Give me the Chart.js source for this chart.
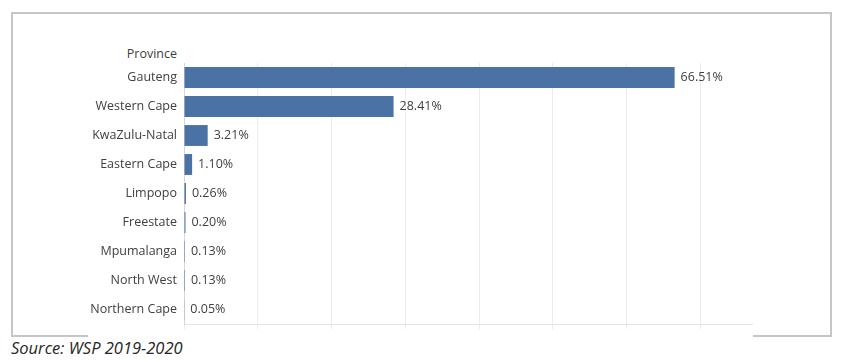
<!DOCTYPE html>
<html>
<head>
<meta charset="utf-8">
<script src="https://cdn.jsdelivr.net/npm/chart.js@4"></script>
<style>
  body { margin: 0; background: #fff; font-family: "Open Sans", sans-serif; }
  #wrap { position: relative; width: 850px; height: 362px; overflow: hidden; }
  .frame { position: absolute; left: 11px; top: 12px; width: 817px; height: 323px;
           border-left: 2px solid #c6c6c6; border-top: 2px solid #c6c6c6; border-right: 2px solid #c6c6c6; }
  .seg { position: absolute; height: 2px; background: #c6c6c6; top: 335px; }
  #head { position: absolute; right: 673px; top: 45px; font-size: 12.5px; color: #404040; }
  #src { position: absolute; left: 11px; top: 336px; font-size: 16.5px; font-style: italic; color: #262626; }
  canvas { position: absolute; left: 0; top: 0; }
</style>
</head>
<body>
<div id="wrap">
  <div class="frame"></div>
  <div class="seg" style="left:11px;width:77px"></div>
  <div class="seg" style="left:753px;width:79px"></div>
  <div id="head">Province</div>
  <div id="src">Source: WSP 2019-2020</div>
  <canvas id="myChart" width="850" height="362"></canvas>
</div>
<script>
// share of workplaces by province (%)
var provinces = ['Gauteng', 'Western Cape', 'KwaZulu-Natal', 'Eastern Cape', 'Limpopo',
                 'Freestate', 'Mpumalanga', 'North West', 'Northern Cape'];
var shares = [66.51, 28.41, 3.21, 1.10, 0.26, 0.20, 0.13, 0.13, 0.05];

// draws the value right after the end of each bar
var barLabels = {
    id: 'barLabels',
    afterDatasetsDraw: function (chart) {
        var ctx = chart.ctx;
        var meta = chart.getDatasetMeta(0);
        ctx.save();
        ctx.font = '12.5px "Open Sans", sans-serif';
        ctx.fillStyle = '#404040';
        ctx.textBaseline = 'middle';
        ctx.textAlign = 'left';
        meta.data.forEach(function (bar, i) {
            ctx.fillText(shares[i].toFixed(2) + '%', bar.x + 6, bar.y);
        });
        ctx.restore();
    }
};

const config = {
    type: 'bar',
    data: {
        labels: provinces,
        datasets: [{
            data: shares,
            backgroundColor: '#4a72a4',
            barPercentage: 0.72,
            categoryPercentage: 1
        }]
    },
    options: {
        indexAxis: 'y',
        responsive: false,
        animation: false,
        layout: { padding: { left: 0, right: 98, top: 63, bottom: 32 } },
        plugins: { legend: { display: false }, tooltip: { enabled: false } },
        scales: {
            x: {
                min: 0, max: 77,
                ticks: { display: false, stepSize: 10 },
                afterBuildTicks: function (axis) {
                    axis.ticks = axis.ticks.filter(function (t) { return t.value % 10 === 0; });
                },
                afterFit: function (axis) { axis.height = 6; },
                grid: { color: '#ececec', tickLength: 5, drawTicks: true },
                border: { color: '#e4e4e4' }
            },
            y: {
                afterFit: function (axis) { axis.width = 184; },
                ticks: { color: '#404040', padding: 7, font: { family: '"Open Sans", sans-serif', size: 12.5 } },
                grid: { display: false, drawTicks: false },
                border: { color: '#d6d6d6' }
            }
        }
    },
    plugins: [barLabels]
};

var myChart = new Chart(document.getElementById('myChart'), config);
</script>
</body>
</html>
